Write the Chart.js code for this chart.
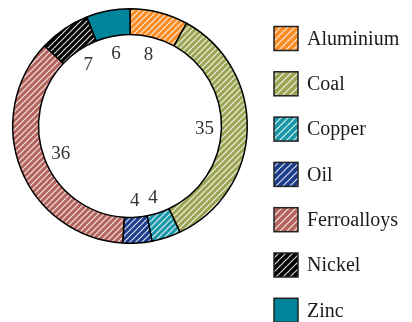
<!DOCTYPE html>
<html>
<head>
<meta charset="utf-8">
<script src="https://cdn.jsdelivr.net/npm/chart.js@4"></script>
<style>
  html, body { margin: 0; padding: 0; background: #fff; }
  #wrap { width: 412px; height: 322px; }
</style>
</head>
<body>
<div id="wrap"><canvas id="donut"></canvas></div>
<script>
const labels = ["Aluminium", "Coal", "Copper", "Oil", "Ferroalloys", "Nickel", "Zinc"];
const values = [8, 35, 4, 4, 36, 7, 6];
const colors = ["#fb8c24", "#9ba553", "#1a97a7", "#1c3c8c", "#b4645d", "#000000", "#00849a"];
const hatched = [true, true, true, true, true, true, false];

const FONT = "'Liberation Serif', 'DejaVu Serif', serif";

// diagonal white hatch on a coloured background
const makePattern = (color, size, lineW) => {
  const c = document.createElement("canvas");
  c.width = size;
  c.height = size;
  const g = c.getContext("2d");
  g.fillStyle = color;
  g.fillRect(0, 0, size, size);
  g.strokeStyle = "rgba(255,255,255,0.85)";
  g.lineWidth = lineW;
  g.beginPath();
  g.moveTo(0, size); g.lineTo(size, 0);
  g.moveTo(-size, size); g.lineTo(0, 0);
  g.moveTo(0, size * 2); g.lineTo(size * 2, 0);
  g.stroke();
  return g.createPattern(c, "repeat");
};

const ringFill = colors.map((c, i) => hatched[i] ? makePattern(c, 6, 1.2) : c);
const boxFill = colors.map((c, i) => hatched[i] ? makePattern(c, 7, 1.2) : c);

const sliceLabels = {
  id: "sliceLabels",
  afterDatasetsDraw(chart) {
    const ctx = chart.ctx;
    const arcs = chart.getDatasetMeta(0).data;
    ctx.save();
    ctx.font = "19px " + FONT;
    ctx.fillStyle = "#333";
    ctx.textAlign = "center";
    ctx.textBaseline = "middle";
    arcs.forEach((arc, i) => {
      const p = arc.getProps(["x", "y", "startAngle", "endAngle", "innerRadius"], true);
      const mid = (p.startAngle + p.endAngle) / 2;
      const r = p.innerRadius - 17;
      ctx.fillText(String(values[i]), p.x + Math.cos(mid) * r, p.y + Math.sin(mid) * r + 1);
    });
    ctx.restore();
  }
};

const sideLegend = {
  id: "sideLegend",
  afterDraw(chart) {
    const ctx = chart.ctx;
    ctx.save();
    ctx.font = "20px " + FONT;
    ctx.textBaseline = "middle";
    labels.forEach((lab, i) => {
      const cy = 38.5 + i * 45.3;
      const bx = 274, size = 24;
      ctx.fillStyle = boxFill[i];
      ctx.fillRect(bx, cy - size / 2, size, size);
      ctx.strokeStyle = "#222";
      ctx.lineWidth = 1.5;
      ctx.strokeRect(bx, cy - size / 2, size, size);
      ctx.fillStyle = "#1a1a1a";
      ctx.fillText(lab, 307, cy + 1);
    });
    ctx.restore();
  }
};

const config = {
  type: "doughnut",
  data: {
    labels: labels,
    datasets: [{
      data: values,
      backgroundColor: ringFill,
      borderColor: "#000",
      borderWidth: 1.5,
    }]
  },
  options: {
    responsive: true,
    maintainAspectRatio: false,
    animation: false,
    cutout: "78%",
    layout: {
      padding: { left: 12, top: 8, right: 164, bottom: 78 }
    },
    plugins: {
      legend: { display: false },
      tooltip: { enabled: false },
    },
  },
  plugins: [sliceLabels, sideLegend],
};

new Chart(document.getElementById("donut"), config);
</script>
</body>
</html>
